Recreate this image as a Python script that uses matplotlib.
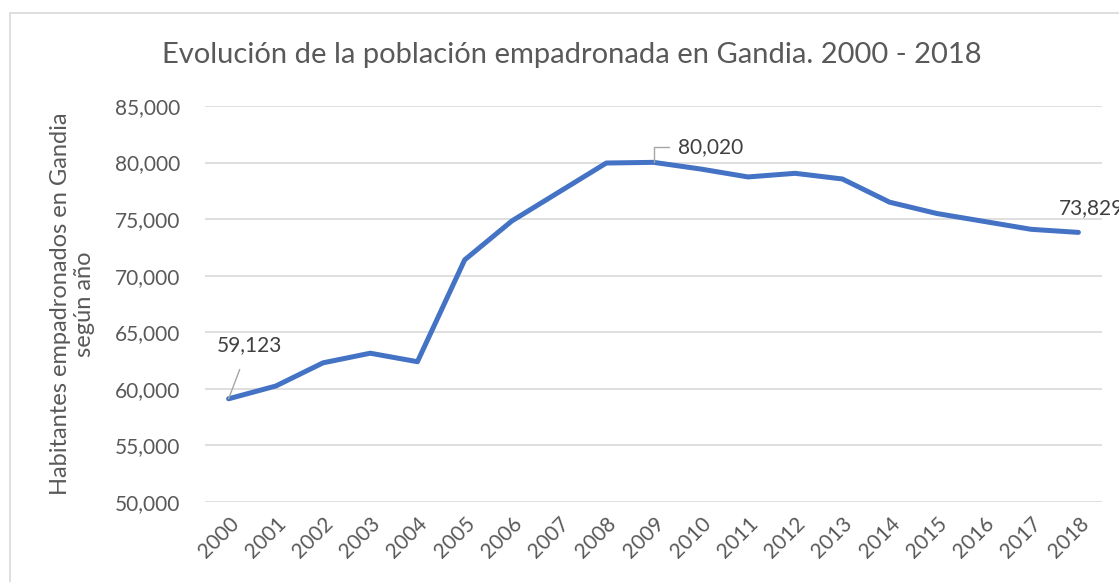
import matplotlib
matplotlib.use("Agg")
import matplotlib.pyplot as plt
from matplotlib.patches import Rectangle
from matplotlib.ticker import FuncFormatter

years = [str(y) for y in range(2000, 2019)]
population = [59123, 60250, 62300, 63150, 62400, 71400, 74840, 77400, 79960, 80020,
              79430, 78730, 79050, 78550, 76500, 75500, 74800, 74100, 73829]
title = "Evolución de la población empadronada en Gandia. 2000 - 2018"
ylabel = "Habitantes empadronados en Gandia\nsegún año"

plt.rcParams['font.family'] = ['Lato', 'DejaVu Sans']
txt = '#595959'

fig = plt.figure(figsize=(11.19, 5.82), dpi=100)
ax = fig.add_axes([205/1119, 1-502/582, (1102-205)/1119, (502-106)/582])

x = list(range(len(years)))
ax.plot(x, population, color='#4472C4', lw=3.6, solid_capstyle='round', solid_joinstyle='round', zorder=3)

ax.set_ylim(50000, 85000)
ax.set_yticks(range(50000, 85001, 5000))
ax.yaxis.set_major_formatter(FuncFormatter(lambda v, p: f"{int(v):,}"))
ax.set_xlim(-0.5, len(years) - 0.5)
ax.set_xticks(x)
ax.set_xticklabels(years, rotation=45, ha='right', rotation_mode='anchor')
ax.grid(axis='y', color='#D9D9D9', lw=1.2)
ax.set_axisbelow(True)
for s in ax.spines.values():
    s.set_visible(False)
ax.tick_params(axis='both', length=0, labelsize=15, colors=txt)
ax.tick_params(axis='y', pad=18)
ax.tick_params(axis='x', pad=8)

ax.set_ylabel(ylabel, fontsize=17, color=txt, labelpad=14, linespacing=1.2)
fig.text(572/1119, 1-55/582, title, fontsize=21, color=txt, ha='center', va='center')

# data labels
i0 = 0
ax.annotate(f"{population[i0]:,}", xy=(x[i0], population[i0]), xytext=(249/1119, 1-345/582),
            textcoords='figure fraction', ha='center', va='center', fontsize=15, color='#404040',
            arrowprops=dict(arrowstyle='-', color='#A6A6A6', lw=1, shrinkA=9, shrinkB=0))
i1 = 9
ax.annotate(f"{population[i1]:,}", xy=(x[i1], population[i1]), xytext=(711/1119, 1-147/582),
            textcoords='figure fraction', ha='center', va='center', fontsize=15, color='#404040',
            arrowprops=dict(arrowstyle='-', color='#A6A6A6', lw=1, shrinkA=0, shrinkB=0,
                            connectionstyle='angle,angleA=0,angleB=90,rad=0',
                            relpos=(-0.15, 0.5)))
i2 = 18
ax.annotate(f"{population[i2]:,}", xy=(x[i2], population[i2]), xytext=(1091/1119, 1-208/582),
            textcoords='figure fraction', ha='center', va='center', fontsize=15, color='#404040',
            annotation_clip=False)

fig.patches.append(Rectangle((10/1119, -0.1), 1.2, 1.1 - 13/582, transform=fig.transFigure,
                             fill=False, edgecolor='#D9D9D9', lw=1.2))

fig.savefig("out.png", dpi=100)
